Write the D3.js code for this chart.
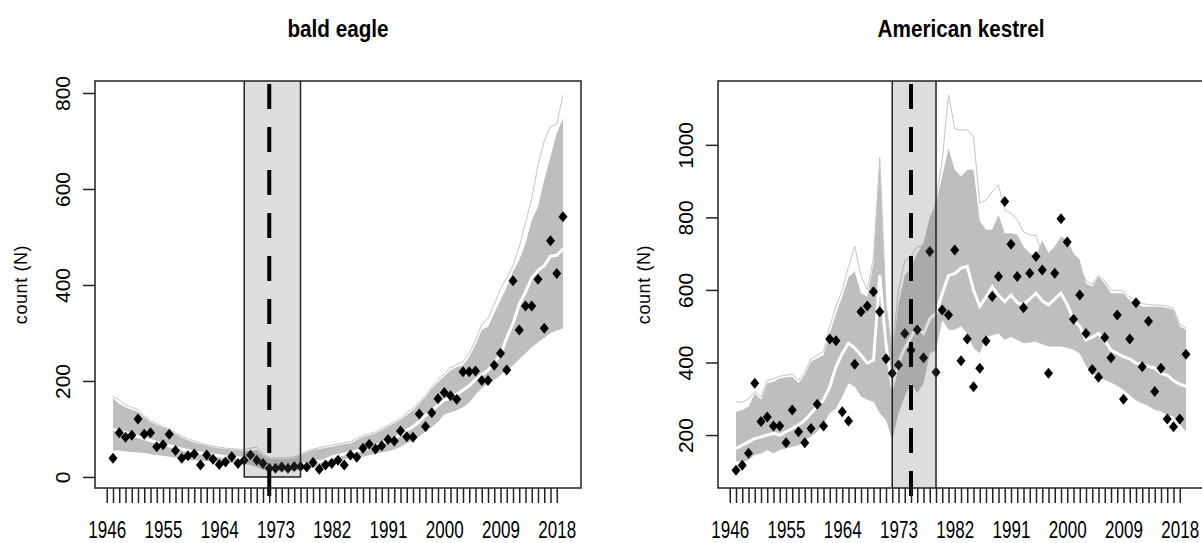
<html>
<head>
  <meta charset="utf-8">
  <title>bald eagle / American kestrel</title>
  <script src="https://d3js.org/d3.v7.min.js"></script>
  <style>
    body { margin: 0; background: #ffffff; }
    svg { display: block; font-family: "Liberation Sans", Arial, sans-serif; }
    .axis line { stroke: #222; stroke-width: 1.5; }
    .axis path { display: none; }
    .x.axis text { font-size: 23px; fill: #000; }
    .y.axis text { font-size: 21px; fill: #000; }
    .axis-title { font-size: 18px; letter-spacing: 0.6px; }
    .panel-title { font-size: 23px; font-weight: bold; }
  </style>
</head>
<body>
<div id="holder"></div>
<script>
// survey years and axis ticks
var years = d3.range(1947, 2020);
var tickYears = d3.range(1946, 2019);
var labelYears = [1946, 1955, 1964, 1973, 1982, 1991, 2000, 2009, 2018];

// bald eagle
var eagleCount = [39, 92, 83, 87, 121, 89, 92, 63, 67, 89,
  55, 39, 44, 48, 25, 46, 37, 26, 31, 42,
  28, 35, 46, 35, 28, 18, 18, 21, 18, 22,
  22, 21, 30, 16, 25, 28, 35, 25, 46, 41,
  60, 68, 58, 65, 78, 75, 96, 84, 83, 131,
  105, 134, 163, 176, 169, 162, 219, 219, 221, 201,
  201, 233, 258, 223, 409, 306, 356, 356, 412, 310,
  492, 424, 542];
var eagleUpper = [164, 152, 145, 140, 136, 125, 115, 108, 104, 98,
  90, 82, 77, 72, 68, 65, 62, 60, 58, 57,
  56, 54, 54, 56, 45, 38, 38, 38, 38, 40,
  45, 52, 56, 58, 61, 63, 66, 68, 70, 77,
  84, 87, 91, 98, 105, 112, 119, 129, 139, 153,
  167, 184, 198, 210, 222, 229, 233, 250, 275, 306,
  313, 341, 368, 396, 428, 452, 487, 535, 563, 619,
  667, 716, 747];
var eagleMedian = [100, 95, 92, 88, 84, 80, 76, 72, 68, 65,
  62, 58, 55, 52, 50, 48, 46, 44, 42, 41,
  40, 39, 38, 32, 26, 22, 22, 22, 23, 24,
  26, 28, 30, 32, 35, 42, 45, 48, 51, 54,
  56, 60, 65, 70, 75, 81, 88, 97, 105, 115,
  128, 137, 150, 160, 165, 172, 181, 190, 203, 213,
  222, 238, 255, 290, 320, 360, 385, 415, 430, 440,
  460, 462, 475];
var eagleLower = [55, 55, 53, 52, 51, 50, 48, 46, 44, 42,
  40, 38, 36, 35, 34, 33, 32, 31, 30, 29,
  28, 27, 25, 20, 15, 12, 12, 12, 12, 13,
  15, 17, 19, 21, 23, 33, 35, 37, 39, 40,
  42, 45, 48, 51, 54, 57, 63, 70, 77, 85,
  94, 104, 115, 130, 135, 139, 145, 155, 172, 185,
  195, 202, 212, 223, 232, 245, 258, 270, 280, 290,
  300, 305, 310];
var eagleOutlier = [168, 160, 150, 145, 140, 128, 118, 110, 105, 100,
  92, 85, 80, 75, 70, 67, 64, 62, 60, 59,
  58, 57, 60, 62, 48, 40, 40, 40, 40, 42,
  47, 54, 58, 61, 64, 66, 69, 71, 74, 80,
  87, 90, 94, 101, 108, 115, 122, 133, 143, 157,
  171, 188, 203, 215, 227, 234, 240, 258, 285, 318,
  330, 360, 392, 415, 440, 480, 530, 580, 650, 700,
  730, 735, 796];
var eagleWindow = [1968, 1977];
var eagleEvent = 1972;

// American kestrel
var kestrelCount = [103, 117, 150, 343, 237, 250, 225, 225, 179, 269,
  209, 179, 218, 285, 225, 465, 460, 264, 239, 395,
  540, 556, 595, 540, 410, 370, 393, 480, 434, 490,
  413, 706, 373, 545, 531, 710, 405, 465, 333, 384,
  459, 582, 637, 844, 726, 637, 551, 646, 692, 655,
  370, 646, 796, 732, 519, 586, 480, 381, 359, 469,
  413, 531, 299, 465, 565, 388, 514, 320, 384, 244,
  223, 244, 423];
var kestrelUpper = [264, 269, 278, 315, 297, 343, 347, 356, 359, 361,
  343, 366, 402, 412, 420, 480, 535, 581, 636, 650,
  591, 581, 673, 959, 560, 420, 560, 640, 660, 700,
  730, 800, 840, 915, 990, 931, 913, 931, 931, 790,
  766, 766, 807, 756, 756, 752, 720, 701, 692, 738,
  701, 720, 747, 738, 701, 683, 618, 609, 637, 618,
  591, 591, 591, 572, 563, 554, 554, 554, 554, 550,
  545, 499, 490];
var kestrelMedian = [163, 172, 181, 190, 195, 200, 205, 200, 209, 218,
  228, 241, 260, 278, 297, 333, 388, 425, 453, 440,
  420, 398, 407, 640, 450, 330, 400, 440, 470, 500,
  480, 520, 536, 590, 640, 645, 660, 665, 600, 555,
  580, 609, 585, 568, 586, 565, 559, 575, 591, 570,
  559, 575, 591, 560, 517, 500, 462, 470, 480, 460,
  434, 425, 416, 410, 398, 395, 389, 385, 370, 365,
  350, 340, 334];
var kestrelLower = [128, 124, 131, 145, 149, 159, 149, 159, 163, 168,
  172, 186, 195, 209, 232, 260, 273, 306, 343, 333,
  306, 297, 292, 260, 241, 186, 260, 306, 343, 315,
  343, 425, 434, 517, 490, 490, 500, 480, 440, 425,
  471, 475, 480, 462, 470, 462, 453, 455, 457, 450,
  444, 444, 444, 440, 435, 425, 390, 370, 360, 352,
  345, 335, 324, 310, 295, 287, 280, 269, 265, 255,
  251, 230, 209];
var kestrelOutlier = [292, 290, 300, 320, 305, 350, 355, 362, 365, 368,
  350, 372, 410, 420, 430, 500, 555, 600, 664, 720,
  640, 600, 690, 965, 560, 430, 600, 680, 692, 720,
  720, 738, 850, 958, 1138, 1044, 1041, 1041, 1023, 839,
  848, 870, 890, 820, 812, 793, 760, 752, 750, 700,
  695, 697, 745, 710, 680, 664, 625, 615, 640, 625,
  600, 598, 598, 580, 570, 562, 560, 558, 558, 555,
  550, 505, 495];
var kestrelWindow = [1972, 1979];
var kestrelEvent = 1975;

var W = 1202, H = 543;
var plotTop = 81, plotBottom = 488;
var xDomain = [1944.12, 2021.88];

var svg = d3.select("#holder").append("svg")
  .attr("width", W)
  .attr("height", H);

var panels = [
  {id: "eagle", title: "bald eagle", left: 95, right: 581, yDomain: [-23, 825], yTicks: [0, 200, 400, 600, 800],
   count: eagleCount, upper: eagleUpper, median: eagleMedian, lower: eagleLower, outlier: eagleOutlier,
   window: eagleWindow, event: eagleEvent},
  {id: "kestrel", title: "American kestrel", left: 718, right: 1204, yDomain: [54, 1176], yTicks: [200, 400, 600, 800, 1000],
   count: kestrelCount, upper: kestrelUpper, median: kestrelMedian, lower: kestrelLower, outlier: kestrelOutlier,
   window: kestrelWindow, event: kestrelEvent}
];

panels.forEach(drawPanel);

function drawPanel(p) {
  var x = d3.scaleLinear().domain(xDomain).range([p.left, p.right]);
  var y = d3.scaleLinear().domain(p.yDomain).range([plotBottom, plotTop]);
  var rows = years.map(function(yr, i) {
    return {year: yr, count: p.count[i], upper: p.upper[i], median: p.median[i], lower: p.lower[i], outlier: p.outlier[i]};
  });

  svg.append("defs").append("clipPath")
    .attr("id", "clip-" + p.id)
    .append("rect")
    .attr("x", p.left)
    .attr("y", plotTop)
    .attr("width", p.right - p.left)
    .attr("height", plotBottom - plotTop);

  var g = svg.append("g").attr("clip-path", "url(#clip-" + p.id + ")");

  // simulated trajectories envelope
  g.append("path")
    .datum(rows)
    .attr("fill", "#bebebe")
    .attr("d", d3.area()
      .x(function(d) { return x(d.year); })
      .y0(function(d) { return y(d.lower); })
      .y1(function(d) { return y(d.upper); }));

  g.append("path")
    .datum(rows)
    .attr("fill", "none")
    .attr("stroke", "#c4c4c4")
    .attr("stroke-width", 1)
    .attr("d", d3.line()
      .x(function(d) { return x(d.year); })
      .y(function(d) { return y(d.outlier); }));

  g.append("path")
    .datum(rows)
    .attr("fill", "none")
    .attr("stroke", "#ffffff")
    .attr("stroke-width", 3)
    .attr("d", d3.line()
      .x(function(d) { return x(d.year); })
      .y(function(d) { return y(d.median); }));

  // observed counts (pch 18)
  g.selectAll(".pt")
    .data(rows)
    .enter().append("path")
    .attr("class", "pt")
    .attr("d", "M0,-5.5L4.5,0L0,5.5L-4.5,0Z")
    .attr("fill", "#000")
    .attr("transform", function(d) { return "translate(" + x(d.year) + "," + y(d.count) + ")"; });

  // event line
  svg.append("line")
    .attr("x1", x(p.event))
    .attr("x2", x(p.event))
    .attr("y1", plotBottom + 8)
    .attr("y2", plotTop)
    .attr("stroke", "#000")
    .attr("stroke-width", 4)
    .attr("stroke-dasharray", "25,18");

  // window
  g.append("rect")
    .attr("x", x(p.window[0]))
    .attr("width", x(p.window[1]) - x(p.window[0]))
    .attr("y", plotTop - 10)
    .attr("height", y(0) - plotTop + 10)
    .attr("fill", "#646464")
    .attr("fill-opacity", 0.22)
    .attr("stroke", "#222")
    .attr("stroke-width", 1.5);

  // axes
  var xAxis = d3.axisBottom(x)
    .tickValues(tickYears)
    .tickSize(15)
    .tickFormat(function(d) { return labelYears.indexOf(d) >= 0 ? d : ""; });
  var gx = svg.append("g")
    .attr("class", "x axis")
    .attr("transform", "translate(0," + plotBottom + ")")
    .call(xAxis);
  gx.selectAll("text")
    .attr("y", null)
    .attr("dy", null)
    .attr("transform", "translate(0,50) scale(0.74,1)");

  var yAxis = d3.axisLeft(y)
    .tickValues(p.yTicks)
    .tickFormat(d3.format("d"))
    .tickSize(12);
  var gy = svg.append("g")
    .attr("class", "y axis")
    .attr("transform", "translate(" + p.left + ",0)")
    .call(yAxis);
  gy.selectAll("text")
    .attr("x", null)
    .attr("dy", null)
    .attr("text-anchor", "middle")
    .attr("transform", "translate(-25,0) rotate(-90)");

  svg.append("rect")
    .attr("x", p.left)
    .attr("y", plotTop)
    .attr("width", p.right - p.left)
    .attr("height", plotBottom - plotTop)
    .attr("fill", "none")
    .attr("stroke", "#222")
    .attr("stroke-width", 1.5);

  svg.append("text")
    .attr("class", "panel-title")
    .attr("text-anchor", "middle")
    .attr("transform", "translate(" + ((p.left + p.right) / 2) + ",37) scale(0.9,1)")
    .text(p.title);

  svg.append("text")
    .attr("class", "axis-title")
    .attr("text-anchor", "middle")
    .attr("transform", "translate(" + (p.left - 68) + "," + ((plotTop + plotBottom) / 2) + ") rotate(-90)")
    .text("count (N)");
}
</script>
</body>
</html>
